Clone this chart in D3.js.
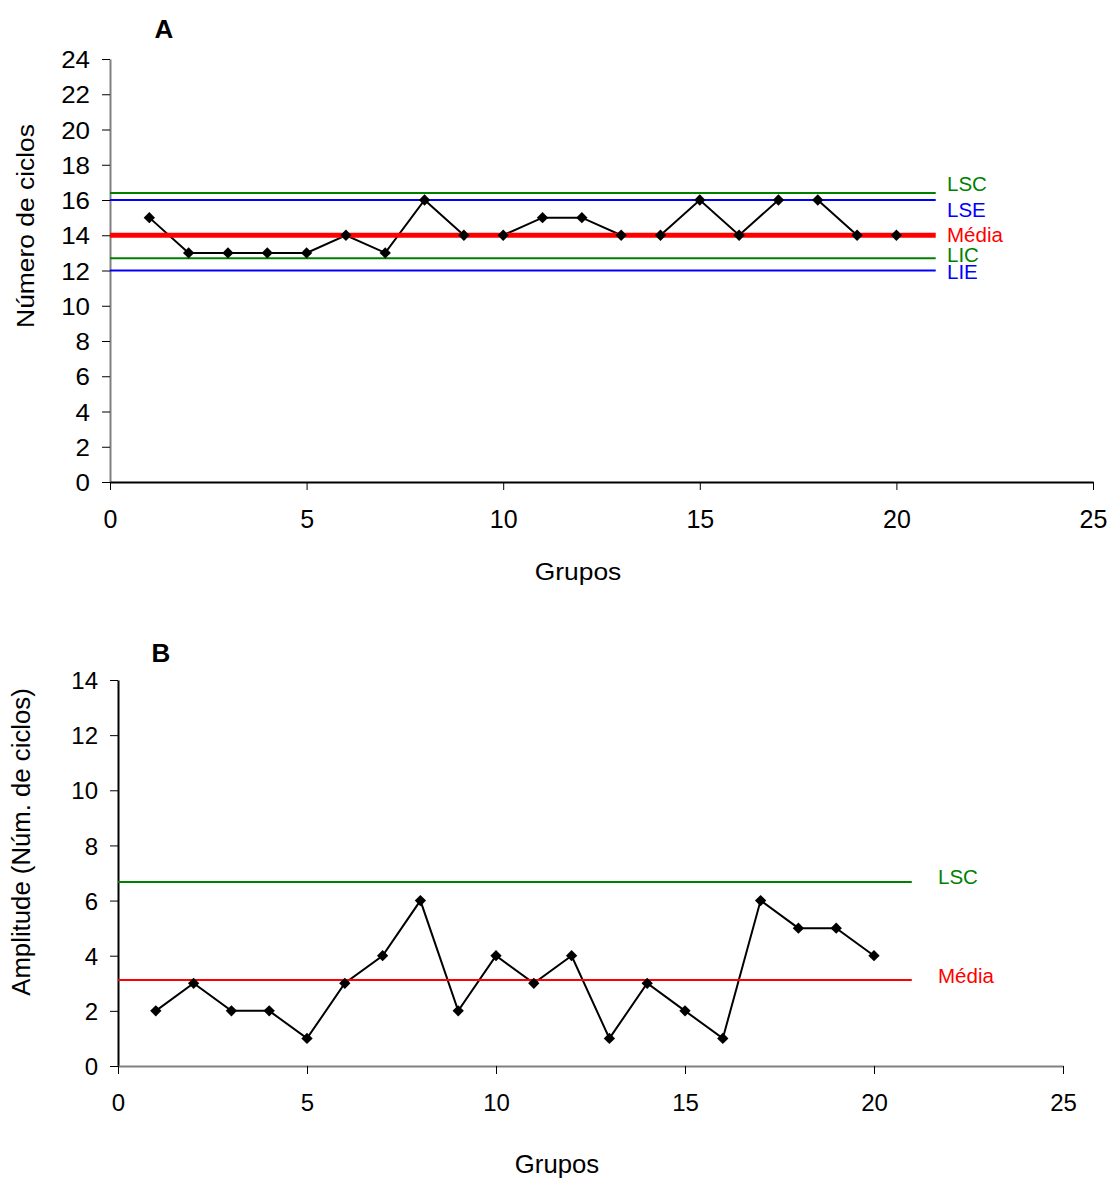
<!DOCTYPE html>
<html>
<head>
<meta charset="utf-8">
<script src="https://cdn.jsdelivr.net/npm/d3@7"></script>
<style>
  html, body { margin: 0; padding: 0; background: #fff; }
  svg { display: block; font-family: "Liberation Sans", Arial, sans-serif; }
</style>
</head>
<body>
<svg id="chart" width="1111" height="1178"></svg>
<script>
// ---------- Data ----------
const groups = [1,2,3,4,5,6,7,8,9,10,11,12,13,14,15,16,17,18,19,20];
const cyclesA = [15,13,13,13,13,14,13,16,14,14,15,15,14,14,16,14,16,16,14,14];
const amplitudeB = [2,3,2,2,1,3,4,6,2,4,3,4,1,3,2,1,6,5,5,4];

const limitNamesA = ["LSC","LSE","Média","LIC","LIE"];
const limitValuesA = [16.4, 16.0, 14.0, 12.7, 12.0];
const limitNamesB = ["LSC","Média"];
const limitValuesB = [6.67, 3.12];

const xTicks = [0,5,10,15,20,25];
const yTicksA = [0,2,4,6,8,10,12,14,16,18,20,22,24];
const yTicksB = [0,2,4,6,8,10,12,14];
const limitSpan = [0, 21];

// ---------- Styles / layout ----------
const limitStyle = {
  "LSC":   {color: "#008000", width: 2},
  "LSE":   {color: "#0000ff", width: 2},
  "LIC":   {color: "#008000", width: 2},
  "LIE":   {color: "#0000ff", width: 2},
};
const labelOffsetA = {"LSC": -2, "LSE": 17, "Média": 6.5, "LIC": 3.5, "LIE": 8.5};
const labelOffsetB = {"LSC": 2, "Média": 3};
const FONT = '"Liberation Sans", Arial, sans-serif';

const svg = d3.select("#chart");

function drawPanel(cfg) {
  const x = d3.scaleLinear().domain([0, 25]).range([cfg.left, cfg.right]);
  const y = d3.scaleLinear().domain(cfg.yDomain).range([cfg.bottom, cfg.top]);
  const g = svg.append("g");

  // y axis
  const yAxis = d3.axisLeft(y).tickValues(cfg.yTicks).tickSize(8).tickPadding(12).tickSizeOuter(0);
  const ya = g.append("g").attr("transform", `translate(${cfg.left},0)`).call(yAxis);
  ya.select(".domain").attr("stroke", cfg.yAxisColor).attr("stroke-width", 2);
  ya.selectAll(".tick line").attr("stroke", "#000").attr("stroke-width", 1);
  ya.selectAll(".tick text")
    .attr("font-size", cfg.yTickFont).attr("fill", "#000").attr("font-family", FONT)
    .attr("x", 0).attr("dy", cfg.yTickDy)
    .attr("transform", `translate(-20,0) scale(${cfg.yTickStretch},1)`);

  // x axis
  const xAxis = d3.axisBottom(x).tickValues(xTicks).tickSize(8).tickPadding(20).tickSizeOuter(0);
  const xa = g.append("g").attr("transform", `translate(0,${cfg.bottom})`).call(xAxis);
  xa.select(".domain").attr("stroke", cfg.xAxisColor).attr("stroke-width", 2);
  xa.selectAll(".tick line").attr("stroke", "#000").attr("stroke-width", 1);
  xa.selectAll(".tick text")
    .attr("font-size", cfg.xTickFont).attr("fill", "#000").attr("font-family", FONT);

  // data line
  const pts = groups.map((gv, i) => [gv, cfg.values[i]]);
  g.append("path")
    .datum(pts)
    .attr("fill", "none")
    .attr("stroke", "#000")
    .attr("stroke-width", 2)
    .attr("d", d3.line().x(d => x(d[0])).y(d => y(d[1])));

  // limit lines
  cfg.limitNames.forEach((name, i) => {
    const v = cfg.limitValues[i];
    const st = name === "Média" ? {color: "#ff0000", width: cfg.meanWidth} : limitStyle[name];
    g.append("line")
      .attr("x1", x(limitSpan[0])).attr("x2", x(limitSpan[1]))
      .attr("y1", y(v)).attr("y2", y(v))
      .attr("stroke", st.color).attr("stroke-width", st.width);
    g.append("text")
      .attr("x", cfg.labelX)
      .attr("y", y(v) + cfg.labelOffset[name])
      .attr("font-size", 20.5)
      .attr("fill", st.color)
      .text(name);
  });

  // markers
  g.selectAll("path.mk")
    .data(pts)
    .enter().append("path")
    .attr("class", "mk")
    .attr("d", d3.symbol().type(d3.symbolSquare).size(64))
    .attr("transform", d => `translate(${x(d[0])},${y(d[1])}) rotate(45)`)
    .attr("fill", "#000");

  // panel letter
  g.append("text")
    .attr("x", cfg.letterX).attr("y", cfg.letterY)
    .attr("text-anchor", "middle")
    .attr("font-size", 26).attr("font-weight", "bold")
    .text(cfg.letter);

  // axis titles
  g.append("text")
    .attr("transform", `translate(${cfg.xTitleX},${cfg.xTitleY}) scale(${cfg.titleStretch},1)`)
    .attr("text-anchor", "middle")
    .attr("font-size", cfg.titleFont)
    .text("Grupos");
  g.append("text")
    .attr("transform", `translate(${cfg.yTitleX},${cfg.yTitleY}) rotate(-90) scale(${cfg.titleStretch},1)`)
    .attr("text-anchor", "middle")
    .attr("font-size", cfg.titleFont)
    .text(cfg.yTitle);
}

drawPanel({
  left: 110, right: 1093, top: 59, bottom: 482,
  yDomain: [0, 24], yTicks: yTicksA, values: cyclesA,
  limitNames: limitNamesA, limitValues: limitValuesA, labelOffset: labelOffsetA,
  labelX: 947, meanWidth: 5,
  yAxisColor: "#808080", xAxisColor: "#000",
  yTickFont: 24, yTickStretch: 1.08, yTickDy: "0.36em", xTickFont: 25,
  titleFont: 24, titleStretch: 1.1,
  letter: "A", letterX: 164, letterY: 38,
  xTitleX: 578, xTitleY: 580,
  yTitle: "Número de ciclos", yTitleX: 33.5, yTitleY: 226
});

drawPanel({
  left: 118, right: 1063, top: 680, bottom: 1066,
  yDomain: [0, 14], yTicks: yTicksB, values: amplitudeB,
  limitNames: limitNamesB, limitValues: limitValuesB, labelOffset: labelOffsetB,
  labelX: 938, meanWidth: 2,
  yAxisColor: "#000", xAxisColor: "#808080",
  yTickFont: 24, yTickStretch: 1.0, yTickDy: "0.36em", xTickFont: 24,
  titleFont: 25, titleStretch: 1.03,
  letter: "B", letterX: 161, letterY: 662,
  xTitleX: 557, xTitleY: 1173,
  yTitle: "Amplitude (Núm. de ciclos)", yTitleX: 29.5, yTitleY: 842
});
</script>
</body>
</html>
